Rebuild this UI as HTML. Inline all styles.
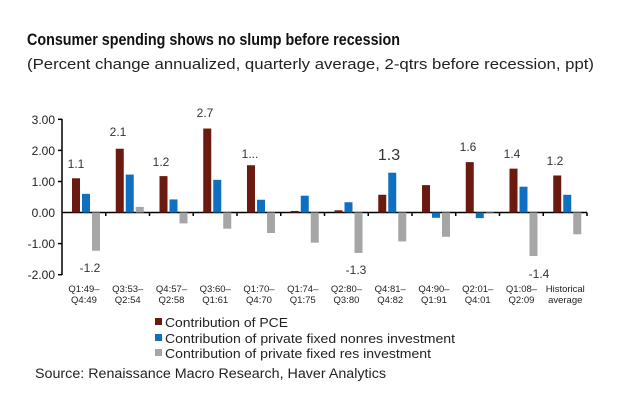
<!DOCTYPE html><html><head><style>body{margin:0;background:#fff}svg{display:block}</style></head><body>
<svg width="624" height="416" xmlns="http://www.w3.org/2000/svg" font-family="Liberation Sans, sans-serif">
<text x="27" y="45" font-size="17" font-weight="bold" fill="#111" textLength="373" lengthAdjust="spacingAndGlyphs">Consumer spending shows no slump before recession</text>
<text x="27" y="69" font-size="15" fill="#222" textLength="567" lengthAdjust="spacingAndGlyphs">(Percent change annualized, quarterly average, 2-qtrs before recession, ppt)</text>
<g font-size="12" fill="#222" text-anchor="end">
<text x="55" y="124">3.00</text><text x="55" y="155">2.00</text><text x="55" y="186">1.00</text><text x="55" y="217">0.00</text><text x="55" y="248">-1.00</text><text x="55" y="279">-2.00</text>
</g>
<g stroke="#000" stroke-width="1.5">
<line x1="62" y1="119" x2="62" y2="275"/>
<line x1="58" y1="119.3" x2="62" y2="119.3"/><line x1="58" y1="150.4" x2="62" y2="150.4"/><line x1="58" y1="181.5" x2="62" y2="181.5"/><line x1="58" y1="243.6" x2="62" y2="243.6"/><line x1="58" y1="274.7" x2="62" y2="274.7"/>
<line x1="62" y1="212.5" x2="587" y2="212.5"/>
</g>
<g id="bars"></g>
<g id="lbl" font-size="9.5" fill="#222" text-anchor="middle"></g>
<g font-size="12" fill="#333" text-anchor="middle">
<text x="76" y="168">1.1</text><text x="90" y="272">-1.2</text>
<text x="118" y="136">2.1</text><text x="161" y="166">1.2</text><text x="205" y="117">2.7</text>
<text x="250" y="158">1...</text><text x="356" y="274">-1.3</text>
<text x="389" y="160" font-size="16">1.3</text>
<text x="468" y="151">1.6</text><text x="512" y="158">1.4</text><text x="539" y="278">-1.4</text><text x="555" y="165">1.2</text>
</g>
<g font-size="13" fill="#222">
<rect x="155" y="318" width="7" height="7" fill="#6b1a10"/><text x="165" y="327" textLength="123" lengthAdjust="spacingAndGlyphs">Contribution of PCE</text>
<rect x="155" y="334" width="7" height="7" fill="#1070c0"/><text x="165" y="343" textLength="290" lengthAdjust="spacingAndGlyphs">Contribution of private fixed nonres investment</text>
<rect x="155" y="349" width="7" height="7" fill="#a6a6a6"/><text x="165" y="358" textLength="266" lengthAdjust="spacingAndGlyphs">Contribution of private fixed res investment</text>
</g>
<text x="35" y="378" font-size="13.5" fill="#222" textLength="351" lengthAdjust="spacingAndGlyphs">Source: Renaissance Macro Research, Haver Analytics</text>
<script>
var d=[[1.1,0.6,-1.23],[2.05,1.22,0.18],[1.17,0.42,-0.35],[2.7,1.05,-0.52],[1.52,0.41,-0.66],[0.05,0.54,-0.97],[0.07,0.33,-1.3],[0.57,1.28,-0.93],[0.88,-0.17,-0.78],[1.62,-0.18,0.02],[1.41,0.83,-1.4],[1.19,0.57,-0.70]];
var c1=["Q1:49–","Q3:53–","Q4:57–","Q3:60–","Q1:70–","Q1:74–","Q2:80–","Q4:81–","Q4:90–","Q2:01–","Q1:08–","Historical"];
var c2=["Q4:49","Q2:54","Q2:58","Q1:61","Q4:70","Q1:75","Q3:80","Q4:82","Q1:91","Q4:01","Q2:09","average"];
var col=["#6b1a10","#1070c0","#a6a6a6"],ns="http://www.w3.org/2000/svg",g=document.getElementById("bars"),L=document.getElementById("lbl"),ax=document.querySelector("g[stroke]");
for(var i=0;i<12;i++){var x0=62+i*43.75;
for(var k=0;k<3;k++){var v=d[i][k],h=Math.abs(v)*31.1,r=document.createElementNS(ns,"rect");
r.setAttribute("x",x0+10+k*10);r.setAttribute("width",8);r.setAttribute("y",v>=0?212.5-h:212.5);r.setAttribute("height",h);r.setAttribute("fill",col[k]);g.appendChild(r);}
var t=document.createElementNS(ns,"line");t.setAttribute("x1",x0+43.75);t.setAttribute("x2",x0+43.75);t.setAttribute("y1",212.5);t.setAttribute("y2",216);ax.appendChild(t);
var a=document.createElementNS(ns,"text");a.setAttribute("x",x0+22);a.setAttribute("y",292);a.textContent=c1[i];L.appendChild(a);
var b=document.createElementNS(ns,"text");b.setAttribute("x",x0+22);b.setAttribute("y",303);b.textContent=c2[i];L.appendChild(b);}
</script>
</svg></body></html>
